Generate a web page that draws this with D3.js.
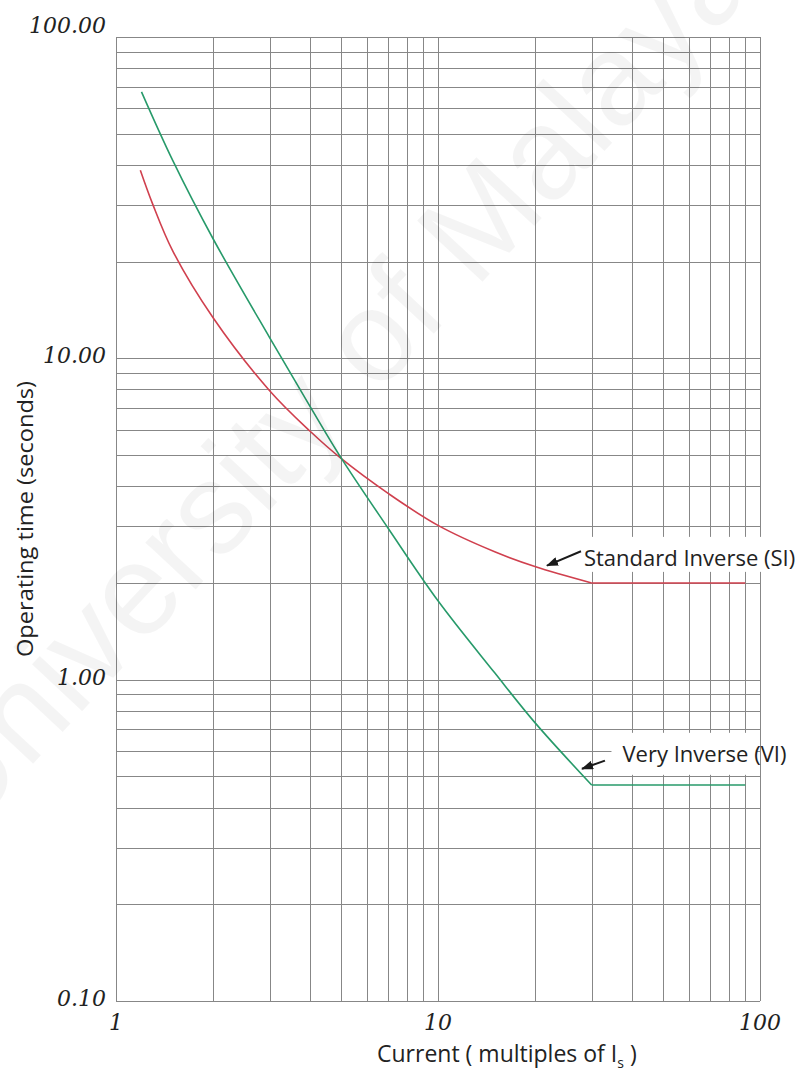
<!DOCTYPE html>
<html>
<head>
<meta charset="utf-8">
<script src="https://cdn.jsdelivr.net/npm/d3@7"></script>
<style>
  html, body { margin: 0; padding: 0; background: #fff; }
  svg { display: block; }
</style>
</head>
<body>
<svg id="chart" width="803" height="1072"></svg>
<script>
// curve values (current in multiples of Is, time in s)
var currentSI = [1.19, 1.3, 1.5, 2, 3, 4, 5, 7, 10, 15, 20, 30, 90];
var timeSI    = [38.5, 30.2, 21.6, 13.4, 7.93, 5.94, 4.88, 3.80, 3.02, 2.50, 2.25, 2.0, 2.0];
var currentVI = [1.2, 1.5, 2, 3, 4, 5, 7, 10, 15, 20, 30, 90];
var timeVI    = [67.5, 41.3, 23.6, 11.6, 7.1, 4.9, 2.96, 1.76, 1.05, 0.735, 0.47, 0.47];

var xTickValues = [1, 10, 100];
var xTickLabels = ['1', '10', '100'];
var yTickValues = [0.1, 1, 10, 100];
var yTickLabels = ['0.10', '1.00', '10.00', '100.00'];

// annotation anchors, in data units
var noteText  = ['Standard Inverse (SI)', 'Very Inverse (VI)'];
var noteAt    = [[28.4, 2.26], [37.4, 0.555]];
var arrowFrom = [[27.8, 2.51], [33.0, 0.56]];
var arrowTo   = [[21.8, 2.265], [28.0, 0.528]];

var kneeCurrent = 30;

var W = 803, H = 1072,
    margin = {top: 37, right: 43, bottom: 71, left: 116},
    width = W - margin.left - margin.right,
    height = H - margin.top - margin.bottom,
    gridColor = '#878787',
    sans = '"Open Sans", "DejaVu Sans", sans-serif',
    serif = '"DejaVu Serif", "Liberation Serif", serif';

var svg = d3.select('#chart');

var x = d3.scaleLog().domain([1, 100]).range([0, width]),
    y = d3.scaleLog().domain([0.1, 100]).range([height, 0]);

var crisp = v => Math.round(v) + 0.5;

svg.append('defs').append('marker')
  .attr('id', 'head')
  .attr('markerUnits', 'userSpaceOnUse')
  .attr('viewBox', '0 0 12 9')
  .attr('refX', 11).attr('refY', 4.5)
  .attr('markerWidth', 12).attr('markerHeight', 9)
  .attr('orient', 'auto')
  .append('path')
    .attr('d', 'M0,0 L12,4.5 L0,9 Z')
    .attr('fill', '#1a1a1a');

var plot = svg.append('g')
  .attr('transform', `translate(${margin.left}, ${margin.top})`);

// log grid: every integer multiple in each decade
plot.append('g').classed('vgrid', true)
  .selectAll('line').data(x.ticks()).enter().append('line')
    .attr('x1', d => crisp(x(d))).attr('x2', d => crisp(x(d)))
    .attr('y1', 0).attr('y2', height)
    .attr('stroke', gridColor).attr('stroke-width', 1);

plot.append('g').classed('hgrid', true)
  .selectAll('line').data(y.ticks()).enter().append('line')
    .attr('y1', d => crisp(y(d))).attr('y2', d => crisp(y(d)))
    .attr('x1', 0).attr('x2', width)
    .attr('stroke', gridColor).attr('stroke-width', 1);

// tick labels (italic serif)
plot.append('g').selectAll('text').data(xTickValues).enter().append('text')
  .attr('x', d => x(d))
  .attr('y', height + 29)
  .attr('text-anchor', 'middle')
  .attr('font-family', serif).attr('font-style', 'italic')
  .attr('font-size', '22px').attr('fill', '#222')
  .text((d, i) => xTickLabels[i]);

plot.append('g').selectAll('text').data(yTickValues).enter().append('text')
  .attr('x', -10)
  .attr('y', d => (y(d) < 1) ? y(d) - 4 : y(d) + 5)
  .attr('text-anchor', 'end')
  .attr('font-family', serif).attr('font-style', 'italic')
  .attr('font-size', '22px').attr('fill', '#222')
  .text((d, i) => yTickLabels[i]);

// axis titles
var xTitle = svg.append('text')
  .attr('x', 377).attr('y', H - 10)
  .attr('font-family', sans).attr('font-size', '23px').attr('fill', '#222');
xTitle.append('tspan').text('Current ( multiples of I');
xTitle.append('tspan').attr('dy', 6).attr('font-size', '14px').text('s');
xTitle.append('tspan').attr('dy', -6).text(' )');

svg.append('text')
  .attr('transform', `translate(33, ${margin.top + height / 2}) rotate(-90)`)
  .attr('text-anchor', 'middle')
  .attr('font-family', sans).attr('font-size', '22px').attr('fill', '#222')
  .attr('textLength', 276).attr('lengthAdjust', 'spacingAndGlyphs')
  .text('Operating time (seconds)');

// annotation labels sit on a white box that hides the grid behind them
var notes = plot.append('g').classed('notes', true);
noteText.forEach(function (label, i) {
  var g = notes.append('g'),
      box = g.append('rect').attr('fill', '#fff'),
      tx = x(noteAt[i][0]),
      ty = y(noteAt[i][1]);
  g.append('text')
    .attr('x', tx).attr('y', ty)
    .attr('font-family', sans).attr('font-size', '22px').attr('fill', '#222')
    .text(label);
  box.attr('x', tx - (i === 0 ? 3 : 11))
    .attr('y', ty - 29)
    .attr('width', width - tx + 8)
    .attr('height', (i === 0) ? 35 : 42);
});

// relay curves: smooth up to the knee, flat definite-time tail after it
function drawCurve(currents, times, color) {
  var pts = currents.map((c, i) => [x(c), y(times[i])]),
      bend = pts.filter((p, i) => currents[i] <= kneeCurrent),
      tail = pts.filter((p, i) => currents[i] >= kneeCurrent);
  plot.append('path')
    .attr('d', d3.line().curve(d3.curveCatmullRom.alpha(0.5))(bend))
    .attr('fill', 'none').attr('stroke', color).attr('stroke-width', 1.6);
  plot.append('path')
    .attr('d', d3.line()(tail))
    .attr('fill', 'none').attr('stroke', color).attr('stroke-width', 1.6);
}
drawCurve(currentSI, timeSI, '#d0404e');
drawCurve(currentVI, timeVI, '#279a6a');

arrowFrom.forEach(function (from, i) {
  plot.append('line')
    .attr('x1', x(from[0])).attr('y1', y(from[1]))
    .attr('x2', x(arrowTo[i][0])).attr('y2', y(arrowTo[i][1]))
    .attr('stroke', '#1a1a1a').attr('stroke-width', 2)
    .attr('marker-end', 'url(#head)');
});

// faint diagonal watermark from the scanned source
svg.append('text')
  .attr('transform', 'translate(362, 411) rotate(-47)')
  .attr('text-anchor', 'middle')
  .attr('font-family', '"Liberation Sans", Arial, sans-serif')
  .attr('font-size', '130px')
  .attr('fill', '#000').attr('fill-opacity', 0.045)
  .text('University of Malaya');
</script>
</body>
</html>
